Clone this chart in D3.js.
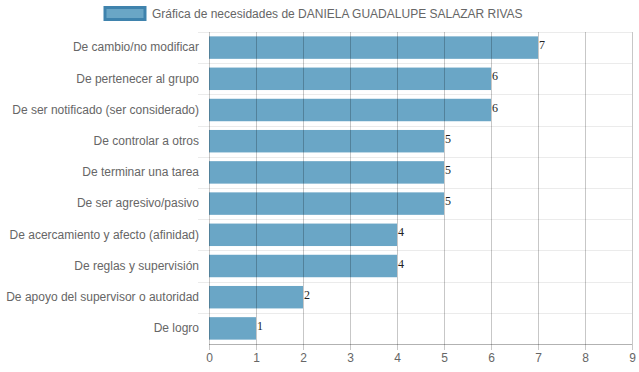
<!DOCTYPE html>
<html>
<head>
<meta charset="utf-8">
<script src="https://cdn.jsdelivr.net/npm/d3@7"></script>
<style>
  body { margin: 0; background: #fff; }
  svg { display: block; font-family: "Liberation Sans", Arial, sans-serif; }
</style>
</head>
<body>
<svg width="639" height="372"></svg>
<script>
'use strict';

// datos
var categories = [
  "De cambio/no modificar",
  "De pertenecer al grupo",
  "De ser notificado (ser considerado)",
  "De controlar a otros",
  "De terminar una tarea",
  "De ser agresivo/pasivo",
  "De acercamiento y afecto (afinidad)",
  "De reglas y supervisión",
  "De apoyo del supervisor o autoridad",
  "De logro"
];
var values = [7, 6, 6, 5, 5, 5, 4, 4, 2, 1];
var xTicks = [0, 1, 2, 3, 4, 5, 6, 7, 8, 9];
var seriesName = "Gráfica de necesidades de DANIELA GUADALUPE SALAZAR RIVAS";

var svg = d3.select('svg');
var plotLeft = 209, plotRight = 632, plotTop = 32, plotBottom = 344;

var x = d3.scaleLinear().domain([0, 9]).range([plotLeft, plotRight]);
var y = d3.scaleBand().domain(categories).range([plotTop, plotBottom]).paddingInner(0.28).paddingOuter(0.14);
var band = d3.scaleBand().domain(categories).range([plotTop, plotBottom]);

// leyenda
svg.append('rect')
  .attr('x', 105).attr('y', 7.5).attr('width', 40).attr('height', 12)
  .attr('fill', '#6aa6c6').attr('stroke', '#3f83ad').attr('stroke-width', 3);
svg.append('text')
  .attr('x', 152).attr('y', 17.5)
  .attr('font-size', 12).attr('fill', '#666')
  .text(seriesName);

// lineas horizontales entre categorias
svg.append('g')
  .selectAll('line')
  .data(categories.slice(1))
  .enter()
  .append('line')
  .attr('x1', 198).attr('x2', plotRight)
  .attr('y1', function (d) { return Math.round(band(d)) + 0.5; })
  .attr('y2', function (d) { return Math.round(band(d)) + 0.5; })
  .attr('stroke', '#ebebeb');
svg.append('line')
  .attr('x1', 198).attr('x2', plotRight)
  .attr('y1', plotTop + 0.5).attr('y2', plotTop + 0.5)
  .attr('stroke', '#ebebeb');

// barras
svg.append('g')
  .selectAll('rect')
  .data(values)
  .enter()
  .append('rect')
  .attr('x', x(0))
  .attr('y', function (d, i) { return y(categories[i]); })
  .attr('width', function (d) { return x(d) - x(0); })
  .attr('height', y.bandwidth())
  .attr('fill', '#6aa6c6');

// lineas verticales
svg.append('g')
  .selectAll('line')
  .data(xTicks)
  .enter()
  .append('line')
  .attr('x1', function (d) { return Math.round(x(d)) + 0.5; })
  .attr('x2', function (d) { return Math.round(x(d)) + 0.5; })
  .attr('y1', plotTop).attr('y2', plotBottom + 6)
  .attr('stroke', 'rgba(0,0,0,0.22)');

// eje x
svg.append('line')
  .attr('x1', plotLeft).attr('x2', plotRight)
  .attr('y1', plotBottom + 0.5).attr('y2', plotBottom + 0.5)
  .attr('stroke', 'rgba(0,0,0,0.3)');

var xAxis = d3.axisBottom(x).tickValues(xTicks).tickSize(0).tickPadding(0);
var gx = svg.append('g')
  .attr('transform', 'translate(0,' + (plotBottom + 6) + ')')
  .call(xAxis);
gx.select('.domain').remove();
gx.selectAll('text')
  .attr('dy', '0')
  .attr('y', 12)
  .attr('font-size', 12)
  .attr('font-family', '"Liberation Sans", Arial, sans-serif')
  .attr('fill', '#666');

// eje y
var yAxis = d3.axisLeft(band).tickSize(0).tickPadding(0);
var gy = svg.append('g')
  .attr('transform', 'translate(199,0)')
  .call(yAxis);
gy.select('.domain').remove();
gy.selectAll('text')
  .attr('font-size', 12)
  .attr('font-family', '"Liberation Sans", Arial, sans-serif')
  .attr('fill', '#666')
  .attr('dy', '0.32em');

// etiquetas de valor
svg.append('g')
  .selectAll('text')
  .data(values)
  .enter()
  .append('text')
  .attr('x', function (d) { return x(d) + 1; })
  .attr('y', function (d, i) { return y(categories[i]) + y.bandwidth() / 2 + 1.5; })
  .attr('font-family', '"Liberation Serif", "Times New Roman", serif')
  .attr('font-size', 12)
  .attr('fill', '#222')
  .text(function (d) { return d; });
</script>
</body>
</html>
